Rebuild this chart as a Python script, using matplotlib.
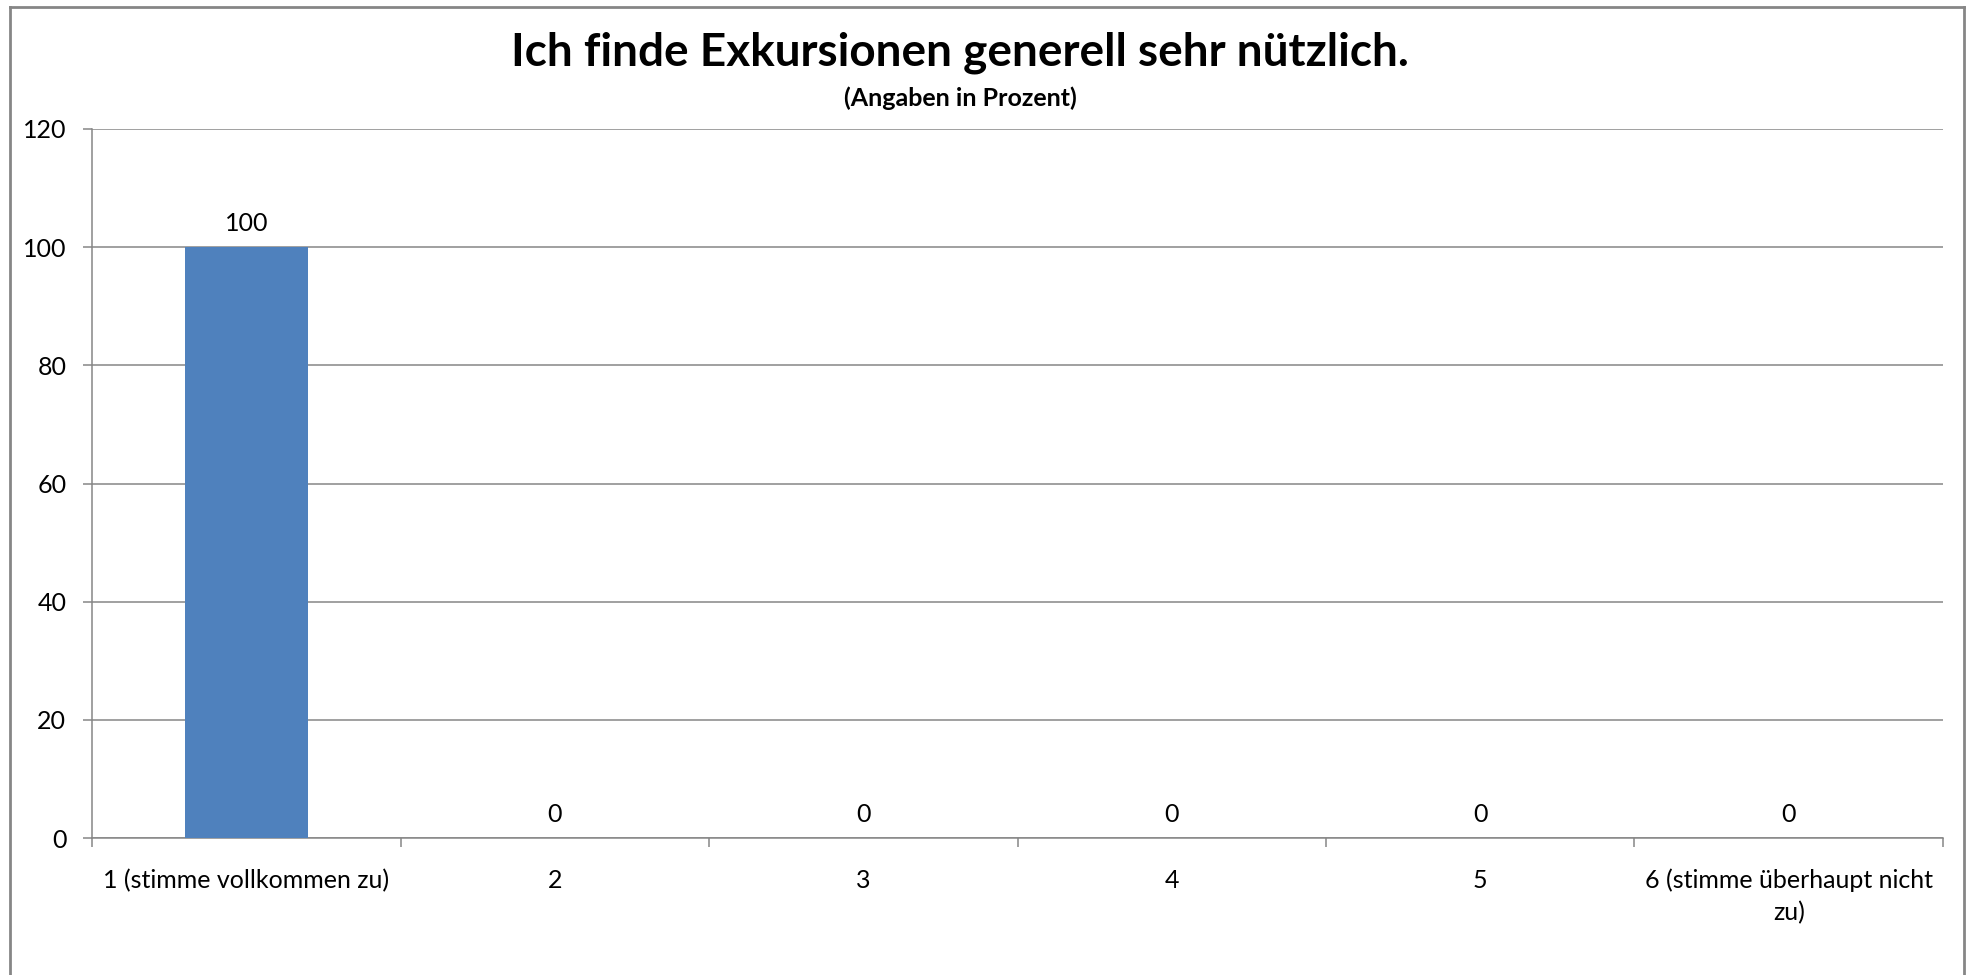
import matplotlib
matplotlib.use('Agg')
import matplotlib.pyplot as plt
from matplotlib.lines import Line2D

plt.rcParams['font.family'] = ['Lato', 'DejaVu Sans']

# Daten
categories = ['1 (stimme vollkommen zu)', '2', '3', '4', '5', '6 (stimme überhaupt nicht\nzu)']
values = [100, 0, 0, 0, 0, 0]
yticks = [0, 20, 40, 60, 80, 100, 120]

title = 'Ich finde Exkursionen generell sehr nützlich.'
subtitle = '(Angaben in Prozent)'

grey = '#868686'
bar_color = '#4F81BD'
W, H = 1966, 975

fig = plt.figure(figsize=(19.66, 9.75), dpi=100)
ax = fig.add_axes([0.0468, 0.1405, 0.9415, 0.7272])

x = list(range(len(categories)))
ax.bar(x, values, width=0.4, color=bar_color, zorder=3)

# Werte über den Balken
for xi, v in zip(x, values):
    ax.annotate(str(v), (xi, v), xytext=(0, 9), textcoords='offset points',
                ha='center', va='bottom', fontsize=18, color='black')

ax.set_xlim(-0.5, len(categories) - 0.5)
ax.set_ylim(0, 120)
ax.set_yticks(yticks)
ax.set_yticklabels([str(t) for t in yticks])
ax.yaxis.grid(True, color=grey, linewidth=1.1, zorder=0)

ax.set_xticks(x)
ax.set_xticklabels(categories, ha='center', linespacing=1.45)
ax.set_xticks([i - 0.5 for i in range(len(categories) + 1)], minor=True)
ax.tick_params(axis='x', which='major', length=0, pad=22, labelsize=18)
ax.tick_params(axis='x', which='minor', length=6.5, width=1.1, color=grey, direction='out')
ax.tick_params(axis='y', length=6.5, width=1.1, color=grey, pad=12, labelsize=18)

for s in ['top', 'right']:
    ax.spines[s].set_visible(False)
for s in ['left', 'bottom']:
    ax.spines[s].set_color(grey)
    ax.spines[s].set_linewidth(1.1)

fig.text(960 / W, 1 - 66 / H, title, ha='center', va='baseline',
         fontsize=33, fontweight='bold')
fig.text(960 / W, 1 - 106 / H, subtitle, ha='center', va='baseline',
         fontsize=18, fontweight='bold')

# Rahmen um das Diagramm (unten abgeschnitten)
fig.add_artist(Line2D([10 / W, 10 / W], [0, 1 - 7 / H], color=grey, linewidth=2))
fig.add_artist(Line2D([10 / W, 1964 / W], [1 - 7 / H, 1 - 7 / H], color=grey, linewidth=2))
fig.add_artist(Line2D([1964 / W, 1964 / W], [0, 1 - 7 / H], color=grey, linewidth=2))

fig.savefig('out.png', dpi=100)
